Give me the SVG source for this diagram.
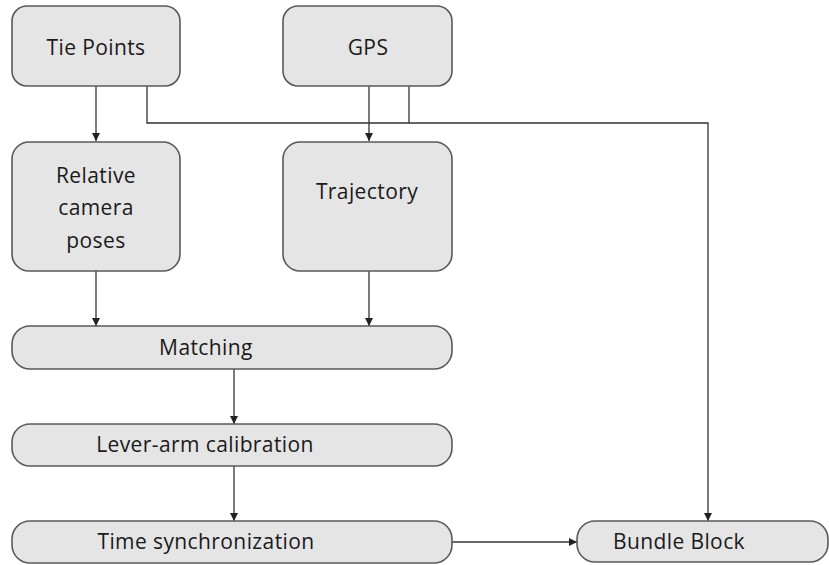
<svg xmlns="http://www.w3.org/2000/svg" width="829" height="565" viewBox="0 0 829 565">
<defs>
<marker id="ah" viewBox="0 0 10 10" refX="10" refY="5" markerWidth="8" markerHeight="8" markerUnits="userSpaceOnUse" orient="auto">
<path d="M0,0 L10,5 L0,10 z" fill="#222"/>
</marker>
</defs>
<style>
.box{fill:#e5e5e5;stroke:#595959;stroke-width:1.6}
.t{font-family:"Open Sans","Liberation Sans",sans-serif;font-size:21px;fill:#1a1a1a;text-anchor:middle;dominant-baseline:central;letter-spacing:0.4px}
.c{fill:none;stroke:#333;stroke-width:1.3}
</style>
<rect width="829" height="565" fill="#fff"/>
<g id="connectors">
<line class="c" x1="96" y1="86" x2="96" y2="141" marker-end="url(#ah)"/>
<polyline class="c" points="147,86 147,123 708,123 708,521" marker-end="url(#ah)"/>
<line class="c" x1="369" y1="86" x2="369" y2="141" marker-end="url(#ah)"/>
<line class="c" x1="409" y1="86" x2="409" y2="123"/>
<line class="c" x1="96" y1="271" x2="96" y2="326" marker-end="url(#ah)"/>
<line class="c" x1="369" y1="271" x2="369" y2="326" marker-end="url(#ah)"/>
<line class="c" x1="234" y1="369" x2="234" y2="424" marker-end="url(#ah)"/>
<line class="c" x1="234" y1="466" x2="234" y2="521" marker-end="url(#ah)"/>
<line class="c" x1="452" y1="542" x2="577" y2="542" marker-end="url(#ah)"/>
</g>
<g id="tie-points">
<rect class="box" x="12" y="6" width="168" height="80" rx="15"/>
<text class="t" x="96" y="47">Tie Points</text>
</g>
<g id="gps">
<rect class="box" x="283" y="6" width="169" height="80" rx="15"/>
<text class="t" x="368" y="47">GPS</text>
</g>
<g id="relative-camera-poses">
<rect class="box" x="12" y="142" width="168" height="129" rx="17"/>
<text class="t" x="96" y="175">Relative</text>
<text class="t" x="96" y="207">camera</text>
<text class="t" x="96" y="240">poses</text>
</g>
<g id="trajectory">
<rect class="box" x="283" y="142" width="169" height="129" rx="17"/>
<text class="t" x="367" y="191">Trajectory</text>
</g>
<g id="matching">
<rect class="box" x="12" y="326" width="440" height="43" rx="18"/>
<text class="t" x="206" y="347">Matching</text>
</g>
<g id="lever-arm">
<rect class="box" x="12" y="424" width="440" height="42" rx="18"/>
<text class="t" x="205" y="444">Lever-arm calibration</text>
</g>
<g id="time-sync">
<rect class="box" x="12" y="521" width="440" height="42" rx="18"/>
<text class="t" x="206" y="541">Time synchronization</text>
</g>
<g id="bundle-block">
<rect class="box" x="577" y="521" width="251" height="41" rx="18"/>
<text class="t" x="679" y="541">Bundle Block</text>
</g>
</svg>
